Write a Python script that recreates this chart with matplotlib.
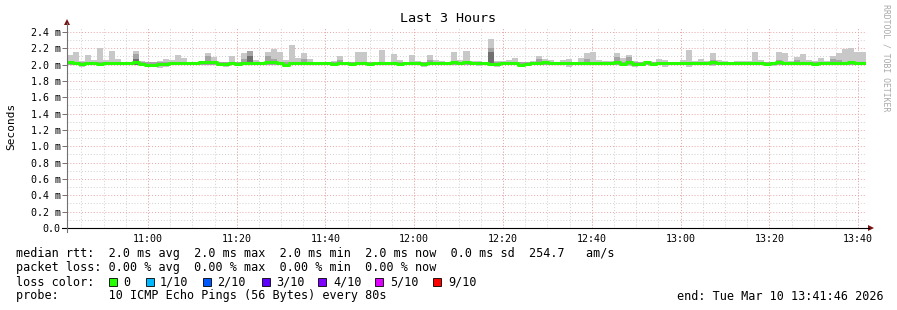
import matplotlib.pyplot as plt
import numpy as np
from matplotlib.lines import Line2D
from matplotlib.patches import Polygon, Rectangle

# ---- data (milliseconds) ----
title = "Last 3 Hours"
start_time = "10:41:46"
span_minutes = 180

# upper edge of the smoke per 80 s bin
smoke_hi = [
    2.118, 2.159, 2.045, 2.118, 2.053, 2.208, 2.057, 2.167, 2.069, 2.037,
    2.037, 2.171, 2.045, 2.037, 2.037, 2.045, 2.069, 2.057, 2.118, 2.082,
    2.037, 2.037, 2.045, 2.147, 2.094, 2.037, 2.029, 2.106, 2.037, 2.147,
    2.167, 2.053, 2.037, 2.159, 2.192, 2.159, 2.057, 2.241, 2.078, 2.147,
    2.065, 2.037, 2.037, 2.037, 2.045, 2.106, 2.037, 2.037, 2.155, 2.155,
    2.037, 2.037, 2.180, 2.037, 2.131, 2.057, 2.037, 2.118, 2.045, 2.037,
    2.118, 2.057, 2.045, 2.024, 2.155, 2.057, 2.167, 2.045, 2.045, 2.033,
    2.318, 2.045, 2.045, 2.057, 2.082, 2.024, 2.033, 2.045, 2.106, 2.069,
    2.057, 2.024, 2.057, 2.069, 2.033, 2.082, 2.147, 2.155, 2.057, 2.045,
    2.045, 2.139, 2.082, 2.118, 2.045, 2.024, 2.024, 2.024, 2.069, 2.057,
    2.033, 2.033, 2.057, 2.180, 2.045, 2.069, 2.045, 2.143, 2.057, 2.045,
    2.037, 2.045, 2.045, 2.045, 2.155, 2.057, 2.024, 2.033, 2.155, 2.143,
    2.045, 2.094, 2.131, 2.057, 2.045, 2.082, 2.045, 2.106, 2.147, 2.192,
    2.204, 2.155, 2.155,
]
# lower edge of the smoke
smoke_lo = [
    1.992, 1.992, 1.976, 1.992, 1.992, 1.992, 1.992, 1.992, 1.992, 1.992,
    1.992, 1.992, 1.992, 1.984, 1.976, 1.959, 1.976, 1.992, 1.992, 1.992,
    1.992, 1.992, 1.992, 1.992, 1.992, 1.984, 1.976, 1.992, 1.984, 1.992,
    1.992, 1.992, 1.992, 1.992, 1.992, 1.992, 1.976, 1.992, 1.992, 1.992,
    1.992, 1.992, 1.992, 1.992, 1.992, 1.992, 1.992, 1.992, 1.992, 1.992,
    1.984, 1.992, 1.992, 1.992, 1.992, 1.984, 1.992, 1.992, 1.992, 1.976,
    1.992, 1.992, 1.992, 1.992, 1.992, 1.992, 1.992, 1.992, 1.984, 1.992,
    1.992, 1.976, 1.992, 1.992, 1.992, 1.984, 1.992, 1.992, 1.992, 1.992,
    1.992, 1.992, 1.992, 1.976, 1.992, 1.992, 1.992, 1.992, 1.992, 1.992,
    1.992, 1.992, 1.984, 1.984, 1.976, 1.992, 1.992, 1.992, 1.992, 1.976,
    1.992, 1.992, 1.992, 1.976, 1.992, 1.992, 1.992, 1.984, 1.992, 1.992,
    1.992, 1.992, 1.992, 1.992, 1.992, 1.992, 1.984, 1.984, 1.992, 1.992,
    1.992, 1.992, 1.992, 1.992, 1.992, 1.992, 1.992, 1.992, 1.992, 1.992,
    1.992, 1.992, 1.992,
]
# inner (darker) smoke band top
smoke_mid = [
    2.028, 2.028, 2.028, 2.028, 2.028, 2.028, 2.028, 2.028, 2.028, 2.028,
    2.028, 2.125, 2.028, 2.028, 2.028, 2.028, 2.028, 2.028, 2.028, 2.028,
    2.028, 2.028, 2.028, 2.100, 2.028, 2.028, 2.028, 2.028, 2.028, 2.070,
    2.165, 2.028, 2.028, 2.110, 2.070, 2.028, 2.028, 2.028, 2.028, 2.070,
    2.028, 2.028, 2.028, 2.028, 2.028, 2.060, 2.028, 2.028, 2.028, 2.028,
    2.028, 2.028, 2.028, 2.028, 2.028, 2.028, 2.028, 2.028, 2.028, 2.028,
    2.060, 2.028, 2.028, 2.028, 2.028, 2.028, 2.028, 2.028, 2.028, 2.028,
    2.210, 2.028, 2.028, 2.028, 2.028, 2.028, 2.028, 2.028, 2.070, 2.028,
    2.028, 2.028, 2.028, 2.028, 2.028, 2.028, 2.070, 2.028, 2.028, 2.028,
    2.028, 2.090, 2.028, 2.090, 2.028, 2.028, 2.028, 2.028, 2.028, 2.028,
    2.028, 2.028, 2.028, 2.028, 2.028, 2.028, 2.028, 2.060, 2.028, 2.028,
    2.028, 2.028, 2.028, 2.028, 2.028, 2.028, 2.028, 2.028, 2.060, 2.028,
    2.028, 2.060, 2.028, 2.028, 2.028, 2.028, 2.028, 2.070, 2.060, 2.028,
    2.028, 2.028, 2.028,
]
# darkest core for a few bins
core_bins = [11, 30, 70]
core_hi = [2.065, 2.100, 2.150]

median = [
    2.030, 2.015, 2.005, 2.015, 2.025, 2.012, 2.025, 2.025, 2.015, 2.015,
    2.015, 2.030, 2.012, 2.000, 2.000, 2.004, 2.008, 2.025, 2.015, 2.015,
    2.015, 2.015, 2.027, 2.027, 2.032, 2.012, 2.008, 2.025, 2.006, 2.015,
    2.015, 2.015, 2.025, 2.027, 2.027, 2.015, 2.000, 2.015, 2.015, 2.025,
    2.025, 2.015, 2.020, 2.015, 2.012, 2.015, 2.015, 2.012, 2.020, 2.015,
    2.008, 2.015, 2.020, 2.015, 2.015, 2.008, 2.020, 2.015, 2.015, 2.004,
    2.015, 2.015, 2.020, 2.015, 2.028, 2.015, 2.028, 2.015, 2.025, 2.025,
    2.012, 2.012, 2.015, 2.025, 2.025, 2.000, 2.012, 2.015, 2.015, 2.027,
    2.015, 2.015, 2.015, 2.015, 2.025, 2.015, 2.015, 2.015, 2.015, 2.015,
    2.020, 2.027, 2.008, 2.027, 2.008, 2.012, 2.030, 2.012, 2.015, 2.015,
    2.015, 2.015, 2.015, 2.015, 2.015, 2.015, 2.015, 2.027, 2.015, 2.015,
    2.015, 2.015, 2.015, 2.015, 2.015, 2.015, 2.012, 2.015, 2.027, 2.015,
    2.015, 2.015, 2.015, 2.015, 2.012, 2.015, 2.015, 2.015, 2.015, 2.020,
    2.027, 2.015, 2.015,
]

y_ticks = [0.0, 0.2, 0.4, 0.6, 0.8, 1.0, 1.2, 1.4, 1.6, 1.8, 2.0, 2.2, 2.4]
y_labels = ["0.0", "0.2 m", "0.4 m", "0.6 m", "0.8 m", "1.0 m", "1.2 m",
            "1.4 m", "1.6 m", "1.8 m", "2.0 m", "2.2 m", "2.4 m"]
x_labels = ["11:00", "11:20", "11:40", "12:00", "12:20", "12:40",
            "13:00", "13:20", "13:40"]

legend_lines = [
    "median rtt:  2.0 ms avg  2.0 ms max  2.0 ms min  2.0 ms now  0.0 ms sd  254.7   am/s",
    "packet loss: 0.00 % avg  0.00 % max  0.00 % min  0.00 % now",
    "loss color:",
    "probe:       10 ICMP Echo Pings (56 Bytes) every 80s",
]
loss_labels = ["0", "1/10", "2/10", "3/10", "4/10", "5/10", "9/10"]
loss_colors = ["#26ff00", "#00b8ff", "#0059ff", "#5e00ff", "#7e00ff", "#dd00ff", "#ff0000"]
end_text = "end: Tue Mar 10 13:41:46 2026"
watermark = "RRDTOOL / TOBI OETIKER"

# ---- layout helpers (pixel coords, origin top-left) ----
W, H = 897, 310
MONO = "DejaVu Sans Mono"


def fx(x):
    return x / W


def fy(y):
    return 1 - y / H


def to_min(hhmm):
    parts = [int(p) for p in hhmm.split(":")]
    secs = parts[2] if len(parts) > 2 else 0
    return parts[0] * 60 + parts[1] + secs / 60


t0 = to_min(start_time)
x_major = [to_min(s) - t0 for s in x_labels]
x_minor = np.arange(x_major[0] - 15, span_minutes, 5)
x_minor = x_minor[x_minor > 0]

fig = plt.figure(figsize=(W / 100, H / 100), dpi=100)
ax = fig.add_axes([fx(67), fy(228), (866 - 67) / W, (228 - 27) / H])
ax.set_xlim(0, span_minutes)
ax.set_ylim(0, 2.461)
for s in ax.spines.values():
    s.set_visible(False)

# grid
dot = (0, (1, 2))
for v in x_minor:
    ax.axvline(v, color="#d0d0d0", lw=0.7, ls=dot, zorder=0)
for v in np.arange(0.1, 2.45, 0.2):
    ax.axhline(v, color="#d0d0d0", lw=0.7, ls=dot, zorder=0)
for v in x_major:
    ax.axvline(v, color="#eaa6a6", lw=0.7, ls=dot, zorder=1)
for v in y_ticks[1:]:
    ax.axhline(v, color="#eaa6a6", lw=0.7, ls=dot, zorder=1)

# smoke
n = len(smoke_hi)
step = span_minutes / n
left = np.arange(n) * step
hi = np.array(smoke_hi)
lo = np.array(smoke_lo)
mid = np.array(smoke_mid)
ax.bar(left, hi - lo, bottom=lo, width=step, align="edge",
       color="#c8c8c8", lw=0, zorder=2)
ax.bar(left, mid - 1.996, bottom=1.996, width=step, align="edge",
       color="#a4a4a4", lw=0, zorder=2.5)
ax.bar(np.array(core_bins) * step, np.array(core_hi) - 2.0, bottom=2.0,
       width=step, align="edge", color="#707070", lw=0, zorder=2.6)

# median line
xm = np.append(left, span_minutes)
ym = np.append(median, median[-1])
ax.step(xm, ym, where="post", color="#26ff00", lw=2.2, zorder=4,
        solid_capstyle="butt")

# ticks
ax.set_yticks(y_ticks)
ax.set_yticklabels(y_labels, family=MONO, fontsize=7.2)
ax.set_xticks(x_major)
ax.set_xticklabels(x_labels, family=MONO, fontsize=7.2)
ax.tick_params(axis="y", length=3.5, width=0.7, color="#707070", pad=1)
ax.tick_params(axis="x", length=0, pad=4)

# axes lines and arrows
fig.add_artist(Line2D([fx(62), fx(869)], [fy(228), fy(228)], color="black", lw=0.8))
fig.add_artist(Line2D([fx(67), fx(67)], [fy(232), fy(23)], color="#707070", lw=0.8))
fig.add_artist(Polygon([(fx(868), fy(225)), (fx(874), fy(228)), (fx(868), fy(231))],
                       closed=True, color="#7a1010", lw=0))
fig.add_artist(Polygon([(fx(64), fy(25)), (fx(67), fy(19)), (fx(70), fy(25))],
                       closed=True, color="#7a1010", lw=0))

# texts
fig.text(fx(448), fy(19), title, family=MONO, fontsize=9.6, ha="center", va="center")
fig.text(fx(11), fy(126), "Seconds", family=MONO, fontsize=8, rotation=90,
         ha="center", va="center")
fig.text(fx(886), fy(4), watermark, family=MONO, fontsize=5.9, rotation=270,
         ha="center", va="top", color="#a8a8a8")

for i, line in enumerate(legend_lines):
    fig.text(fx(16), fy(254 + 14 * i), line, family=MONO, fontsize=8.5,
             ha="left", va="center")

box_x = [109, 146, 203, 262, 318, 375, 433]
lab_x = [123, 160, 217, 276, 333, 390, 448]
for bx, lx, lab, col in zip(box_x, lab_x, loss_labels, loss_colors):
    fig.add_artist(Rectangle((fx(bx), fy(286)), 8 / W, 8 / H, facecolor=col,
                             edgecolor="black", lw=0.6))
    fig.text(fx(lx), fy(282), lab, family=MONO, fontsize=8.5, ha="left", va="center")

fig.text(fx(884), fy(296), end_text, family=MONO, fontsize=8.5, ha="right", va="center")

fig.savefig("out.png", dpi=100)
